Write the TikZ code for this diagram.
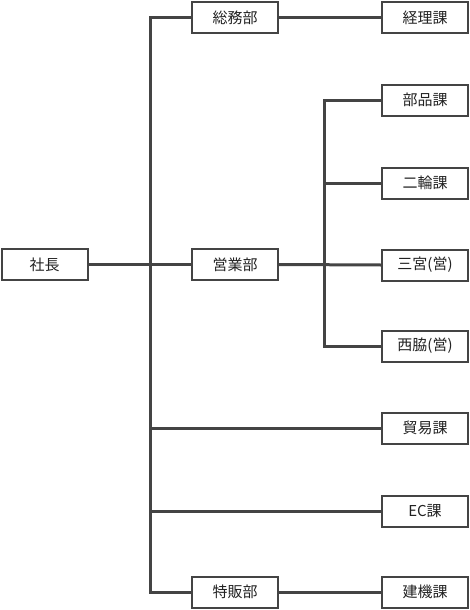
\documentclass[tikz,border=0pt]{standalone}
\usepackage{fontspec}
\setmainfont{Noto Sans CJK JP}
\definecolor{linec}{HTML}{444444}
\definecolor{txtc}{HTML}{222222}
\begin{document}
\begin{tikzpicture}[x=1pt,y=-1pt,
  box/.style={draw=linec,line width=2pt,fill=white,minimum width=86pt,minimum height=31pt,inner sep=0pt,text=txtc,font=\fontsize{15}{17}\selectfont},
  conn/.style={draw=linec,line width=3pt}]
\useasboundingbox (0,0) rectangle (470,610);
% boxes
\node[box] (shacho) at (44.5,264.5) {社長};
\node[box] (somu) at (235,17.5) {総務部};
\node[box] (eigyo) at (235,264.5) {営業部};
\node[box] (tokuhan) at (235,592) {特販部};
\node[box] (keiri) at (425,17.5) {経理課};
\node[box] (buhin) at (425,100) {部品課};
\node[box] (nirin) at (425,183) {二輪課};
\node[box] (sannomiya) at (425,265) {三宮(営)};
\node[box] (nishiwaki) at (425,346) {西脇(営)};
\node[box] (boeki) at (425,428) {貿易課};
\node[box] (ec) at (425,511) {EC課};
\node[box] (kenki) at (425,592) {建機課};
% coordinates
\coordinate (t1) at (150.5,17.5);
\coordinate (t2) at (150.5,592);
\coordinate (s1) at (324,100);
\coordinate (s2) at (324,346);
% connectors
\draw[conn] (somu.west) -- (t1) -- (t2) -- (tokuhan.west);
\draw[conn] (shacho.east) -- (eigyo.west);
\draw[conn] (somu.east) -- (keiri.west);
\draw[conn] (tokuhan.east) -- (kenki.west);
\draw[conn] (t1 |- boeki.west) -- (boeki.west);
\draw[conn] (t1 |- ec.west) -- (ec.west);
\draw[conn] (eigyo.east) -- (sannomiya.west);
\draw[conn] (buhin.west) -- (s1) -- (s2) -- (nishiwaki.west);
\draw[conn] (s1 |- nirin.west) -- (nirin.west);
\end{tikzpicture}
\end{document}
